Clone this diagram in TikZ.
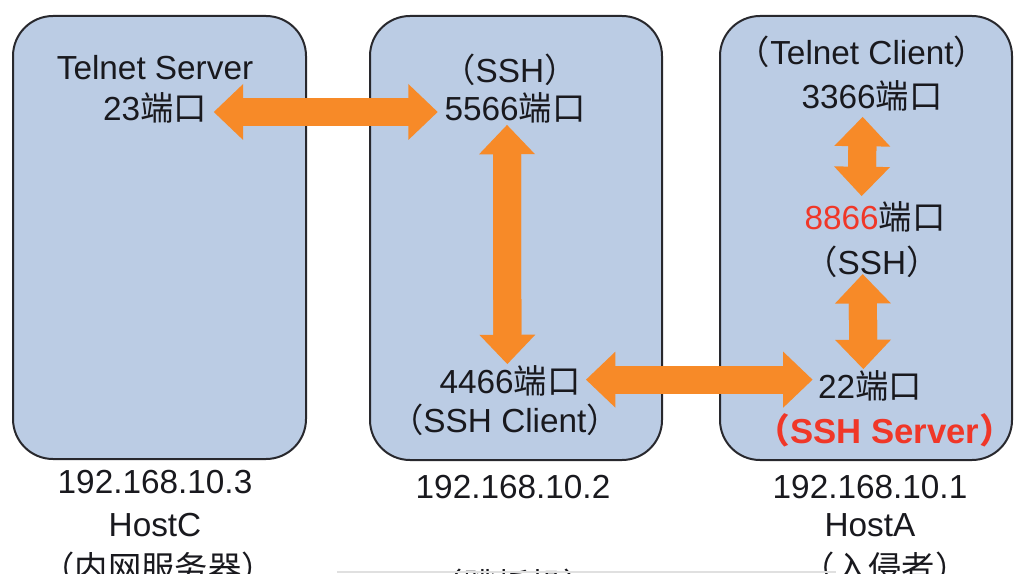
\documentclass[tikz,border=0pt]{standalone}
\usepackage{fontspec}
\setmainfont{Liberation Sans}
\newfontfamily\cjk{Noto Sans CJK SC}
\usetikzlibrary{arrows.meta}
\definecolor{boxfill}{RGB}{187,204,228}
\definecolor{boxline}{RGB}{40,40,45}
\definecolor{org}{RGB}{247,138,40}
\definecolor{redc}{RGB}{240,55,40}
\definecolor{txt}{RGB}{25,25,30}
\newcommand\zdk{{\cjk 端口}}
\newcommand\zlp{{\cjk （}}
\newcommand\zrp{{\cjk ）}}
\begin{document}
\begin{tikzpicture}[x=0.75pt,y=-0.75pt,
  host/.style={draw=boxline, line width=1.5pt, fill=boxfill, rounded corners=30pt},
  lbl/.style={font=\fontsize{25}{30}\selectfont, text=txt, inner sep=1pt},
  tipx/.tip={Triangle[width=42pt,length=22pt,line width=0pt]},
  bigarrow/.style={draw=org, line width=21pt, tipx-tipx,
    postaction={draw=org, line width=21pt, -, shorten <=20pt, shorten >=20pt}}]
\useasboundingbox (0,0) rectangle (1024,574);
\clip (0,0) rectangle (1024,574);
% hosts
\draw[host] (13,16) rectangle (306,459);
\draw[host] (370,16) rectangle (662,460);
\draw[host] (720,16) rectangle (1012,460);
% labels in HostC
\node[lbl] (ts) at (155,68) {Telnet Server};
\node[lbl] (p23) at (155,108) {23\zdk};
% labels in middle host
\node[lbl] (ssh1) at (510,70) {\zlp SSH\zrp};
\node[lbl] (p5566) at (515,108) {5566\zdk};
\node[lbl] (p4466) at (510,381) {4466\zdk};
\node[lbl] (sshc) at (505,420) {\zlp SSH Client\zrp};
% labels in HostA
\node[lbl] (tc) at (862,52) {\zlp Telnet Client\zrp};
\node[lbl] (p3366) at (872,96) {3366\zdk};
\node[lbl] (p8866) at (875,217) {\textcolor{redc}{8866}\zdk};
\node[lbl] (ssh2) at (872,262) {\zlp SSH\zrp};
\node[lbl] (p22) at (870,386) {22\zdk};
\node[lbl, text=redc, font=\fontsize{26}{30}\selectfont\bfseries] (sshs) at (885,430) {\zlp SSH Server\zrp};
% bottom labels
\node[lbl] (ip3) at (155,482) {192.168.10.3};
\node[lbl] (hc) at (155,525) {HostC};
\node[lbl] (nc) at (158,568) {\zlp{\cjk 内网服务器}\zrp};
\node[lbl] (ip2) at (513,487) {192.168.10.2};
\node[lbl] (tb) at (513,585) {\zlp{\cjk 跳板机}\zrp};
\node[lbl] (ip1) at (870,487) {192.168.10.1};
\node[lbl] (ha) at (870,525) {HostA};
\node[lbl] (rq) at (885,568) {\zlp{\cjk 入侵者}\zrp};
\draw[black!12, line width=1pt] (337,572) -- (836,572);
% arrows
\coordinate (h2s) at ([xshift=3pt,yshift=1pt]p4466.east);
\coordinate (h2e) at (h2s -| p22.west);
\draw[bigarrow] ([xshift=4pt,yshift=-3pt]p23.east) -- ([xshift=-4pt,yshift=-3pt]p5566.west);
\draw[bigarrow] ([xshift=-6pt]p5566.south) -- ([xshift=-2pt]p4466.north);
\draw[bigarrow] (h2s) -- ([xshift=-3pt]h2e);
\draw[bigarrow] ([xshift=-7pt,yshift=-3pt]p3366.south) -- ([xshift=-10pt,yshift=3pt]p8866.north);
\draw[bigarrow] ([xshift=-7pt,yshift=4pt]ssh2.south) -- ([xshift=-5pt]p22.north);
\end{tikzpicture}
\end{document}
